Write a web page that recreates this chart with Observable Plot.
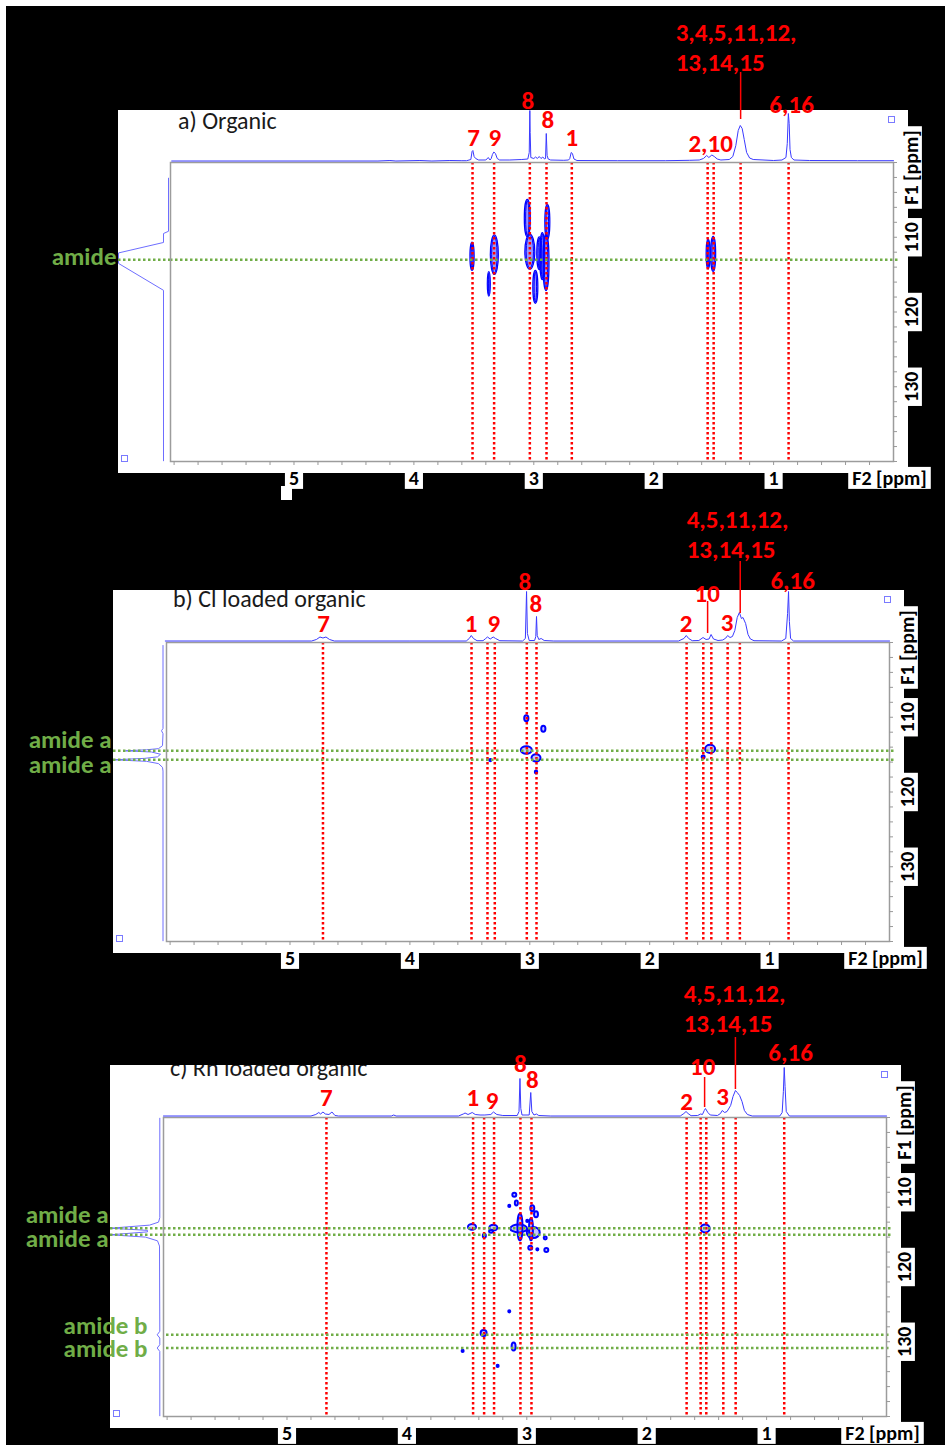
<!DOCTYPE html>
<html><head><meta charset="utf-8">
<script src="https://cdn.jsdelivr.net/npm/d3@7"></script>
<script src="https://cdn.jsdelivr.net/npm/@observablehq/plot@0.6"></script>
<style>
html,body{margin:0;padding:0;background:#fff;}
#page{position:relative;width:945px;height:1445px;overflow:hidden;background:#fff;}
#black{position:absolute;left:6px;top:6px;right:0;bottom:0;background:#000;}
.white{position:absolute;background:#fff;overflow:hidden;}
.title{position:absolute;left:60px;font-family:Carlito,Lato,"Open Sans",sans-serif;font-size:24px;color:#1a1a1a;white-space:nowrap;line-height:24px;}
.marker{position:absolute;width:7px;height:7px;border:1px solid #7a7aff;box-sizing:border-box;background:#fff;}
.deco{position:absolute;background:#fff;}
</style></head>
<body><div id="page"><div id="black"></div></div>
<script>
// ---------- data ----------
const xTickLabels = [5, 4, 3, 2, 1];
const yTickLabels = [110, 120, 130];
const titles = ["a) Organic", "b) Cl loaded organic", "c) Rh loaded organic"];

// 1D F2 traces: [ppm, height above baseline]
const traceA = [[6.02,0.5],[4.30,0.5],[4.20,1],[4.15,0.5],[3.95,1],[3.85,0.5],[3.70,1],[3.60,0.8],
 [3.56,0.8],[3.525,2],[3.515,10],[3.508,11],[3.498,5],[3.485,3],[3.46,1.5],
 [3.40,1.5],[3.38,4],[3.365,1.5],[3.355,3],[3.345,7],[3.333,9.5],[3.32,8],[3.305,3],[3.285,1.5],
 [3.20,1.5],[3.10,2],[3.05,2.5],[3.038,9],[3.033,51],[3.030,29],[3.025,4],
 [3.00,3],[2.985,4.5],[2.97,3],[2.955,5],[2.94,3],[2.925,4.5],[2.91,2.5],
 [2.902,3],[2.896,28],[2.889,6],[2.88,2.5],[2.86,1.5],[2.75,1.2],
 [2.71,1.5],[2.70,3],[2.688,9],[2.678,8],[2.665,2.5],[2.64,1],
 [2.30,0.8],[1.90,0.8],[1.70,1.2],[1.62,1.5],[1.585,3],[1.558,6],[1.54,4],[1.515,6.5],[1.495,5],[1.47,2.5],[1.44,1.5],
 [1.37,2],[1.34,5],[1.315,16],[1.295,31],[1.278,36],[1.262,33],[1.245,22],[1.225,9],[1.20,3.5],[1.17,2],
 [1.00,1],[0.93,1.5],[0.897,4],[0.886,18],[0.877,48],[0.870,38],[0.863,12],[0.852,4],[0.83,1.5],[0.70,1],[0.30,0.8],[0.00,0.8]];
const traceB = [[6.04,0.5],[5.0,0.5],[4.82,0.5],[4.78,2],[4.75,4.5],[4.725,3.5],[4.70,4.5],[4.67,2],[4.63,0.5],
 [4.0,0.5],[3.53,0.5],[3.505,3],[3.488,6],[3.47,3],[3.44,0.8],
 [3.39,0.8],[3.368,3],[3.353,4.5],[3.33,2.5],[3.305,4.5],[3.285,3],[3.25,0.8],
 [3.06,0.5],[3.037,3],[3.027,50],[3.02,8],[3.005,1],
 [2.96,1],[2.95,5],[2.944,25],[2.938,6],[2.925,2],[2.905,3],[2.88,1],[2.80,0.5],
 [1.76,0.5],[1.715,3],[1.695,6],[1.675,3],[1.645,0.8],
 [1.59,1],[1.555,4],[1.53,2],[1.505,2.5],[1.488,7],[1.468,2.5],[1.43,1],
 [1.39,1.5],[1.365,3.5],[1.35,6],[1.33,4],[1.31,5],[1.29,11],[1.27,24],[1.252,29],[1.235,23],[1.222,24],[1.20,18],[1.18,7],[1.16,2.5],[1.13,0.8],
 [0.90,0.5],[0.865,3],[0.850,28],[0.842,50],[0.835,20],[0.825,3],[0.80,0.5],[0.0,0.5]];
const traceC = [[6.03,0.5],[4.80,0.5],[4.76,2],[4.735,4],[4.72,2.5],[4.70,4.5],[4.68,2.5],[4.65,2],[4.625,4.5],[4.60,1],[4.57,0.5],
 [4.13,0.5],[4.11,1.5],[4.09,0.5],
 [3.57,0.5],[3.53,2.5],[3.515,3.5],[3.49,2],[3.455,4],[3.43,2],[3.39,1.5],[3.35,1.5],[3.30,2],[3.278,4.5],[3.25,2],[3.20,1],
 [3.08,1],[3.065,5],[3.057,38],[3.05,8],[3.04,1.5],[2.98,1.5],[2.967,24],[2.958,5],[2.94,1.5],[2.92,2.5],[2.90,1],[2.80,0.5],
 [1.72,0.5],[1.69,3],[1.672,5],[1.655,3],[1.63,0.8],[1.575,1],[1.55,2.5],[1.535,2],[1.52,6],[1.51,8],[1.49,4],[1.47,1.5],
 [1.41,1],[1.385,3],[1.37,6],[1.35,4],[1.33,5],[1.30,11],[1.28,20],[1.26,26],[1.245,24],[1.225,21],[1.205,15],[1.185,6],[1.16,2],[1.12,0.5],
 [0.89,0.5],[0.87,4],[0.86,25],[0.853,49],[0.846,30],[0.836,5],[0.81,0.5],[0.0,0.5]];

// F1 projections: [F1 ppm, height]
const projA = [[102.1,2],[109.2,2],[109.5,7],[110.7,7],[112.1,52],[113.5,52],[117.1,7],[139.9,7]];
const projB = [[100.4,3.5],[111.5,3.5],[111.8,5],[112.2,3.5],[113.8,4],[114.2,8],[114.35,20],[114.49,41],[114.65,15],[114.95,6],
 [115.3,9],[115.5,22],[115.69,52],[115.9,20],[116.2,8],[116.7,4],[117.2,3.5],[139.9,3.5]];
const projC = [[100.1,3.7],[113.4,3.7],[114.0,5],[114.4,14],[114.81,53],[115.1,16],[115.3,16],[115.69,53],[116.0,18],[116.5,6],[117.2,4],
 [128.6,3.7],[129.07,6.3],[129.5,3.7],[130.4,3.7],[130.84,6.3],[131.3,3.7],[139.9,3.7]];

// assignment lines (F2 ppm)
const assignA = [3.511,3.331,3.033,2.894,2.683,1.55,1.5,1.275,0.875];
const assignB = [4.725,3.486,3.353,3.292,3.025,2.944,1.692,1.553,1.486,1.35,1.248,0.842];
const assignC = [4.671,3.448,3.356,3.273,3.053,2.961,1.667,1.55,1.503,1.361,1.258,0.853];

// amide lines (F1 ppm) and their labels [text, F1]
const amideA = [113.0];
const amideLabelsA = [["amide",112.7]];
const amideB = [114.49,115.69];
const amideLabelsB = [["amide a",113.1],["amide a",116.45]];
const amideC = [114.81,115.69];
const amideLabelsC = [["amide a",113.1],["amide a",116.2]];
const amideBLinesC = [129.07,130.84];
const amideBLabelsC = [["amide b",127.9],["amide b",131.0]];

// peak labels [text, ppm, height]
const peakLabelsA = [["7",3.503,23.5],["9",3.325,23.5],["8",3.05,61],["8",2.883,42],["1",2.683,23.5],["2,10",1.525,17.5],["6,16",0.85,57]];
const groupLabelsA = [["3,4,5,11,12,",1.817,128.5],["13,14,15",1.817,98.5]];
const leadersA = [[1.275,89,42]];
const peakLabelsB = [["7",4.72,18],["1",3.49,18],["9",3.30,18],["8",3.042,60],["8",2.95,38],["2",1.697,18],["10",1.521,48],["3",1.355,18.3],["6,16",0.808,61]];
const groupLabelsB = [["4,5,11,12,",1.692,122],["13,14,15",1.692,92]];
const leadersB = [[1.245,80,28],[1.517,40,8]];
const peakLabelsC = [["7",4.671,18.5],["1",3.45,19],["9",3.29,16],["8",3.053,53],["8",2.953,37],["2",1.667,15],["10",1.533,50],["3",1.367,20],["6,16",0.8,64]];
const groupLabelsC = [["4,5,11,12,",1.692,123],["13,14,15",1.692,93]];
const leadersC = [[1.26,79,27],[1.517,39,9]];

// cross peaks [F2 centre, F1 centre, F2 extent, F1 extent]
const crossA = [[3.511,112.6,0.035,3.8],[3.325,112.4,0.067,5.3],[3.371,116.3,0.025,3.3],[3.050,107.5,0.05,5.0],
 [3.029,112.0,0.083,4.7],[2.983,116.7,0.042,4.4],[2.950,112.2,0.042,4.4],[2.925,112.6,0.042,6.3],
 [2.883,108.0,0.042,4.7],[2.894,113.4,0.05,7.6],[1.542,112.3,0.033,4.0],[1.500,112.3,0.042,4.7]];
const crossB = [[3.025,110.2,0.035,0.8],[2.883,111.6,0.035,0.8],[3.025,114.45,0.092,1.0],[2.944,115.5,0.075,1.0],
 [2.944,117.4,0.02,0.4],[3.325,115.8,0.02,0.3],[1.492,114.3,0.083,1.1],[1.550,115.4,0.025,0.4]];
const crossC = [[3.100,110.4,0.033,0.55],[3.142,111.9,0.017,0.3],[3.083,111.5,0.025,0.65],[2.950,112.2,0.033,0.8],
 [2.919,113.0,0.033,0.8],[2.992,113.9,0.017,0.3],[3.453,114.7,0.067,0.8],[3.350,115.9,0.025,0.55],
 [3.275,114.8,0.067,0.8],[3.294,115.3,0.033,0.4],[3.063,114.9,0.14,1.07],[3.053,114.7,0.042,3.6],
 [2.942,115.45,0.108,1.47],[2.961,115.0,0.033,3.0],[2.967,117.5,0.033,0.55],[2.908,117.7,0.017,0.3],
 [2.833,117.8,0.033,0.55],[2.842,116.2,0.025,0.4],[3.142,126.0,0.017,0.3],[3.356,128.9,0.05,0.8],
 [3.106,130.7,0.033,1.07],[3.531,131.3,0.017,0.3],[3.239,133.3,0.017,0.3],[1.508,114.9,0.075,1.07]];

// ---------- layout ----------
const F = "Carlito, Lato, 'Open Sans', sans-serif";
const RED = "#ff0000", GREEN = "#70ad47";
const NS = "http://www.w3.org/2000/svg";
const F2DOMAIN = [6.03, 0];
const page = document.getElementById("page");

const panels = [
  {title: titles[0], titleTop: -1, white: [118,110,908,473], frame: [170,162,893,461], trace: traceA, proj: projA,
   assign: assignA, amide: amideA, amideLabels: amideLabelsA, amideB: [], amideBLabels: [], cross: crossA,
   peakLabels: peakLabelsA, groupLabels: groupLabelsA, leaders: leadersA, thin: true},
  {title: titles[1], titleTop: -3, white: [113,590,904,953], frame: [166,642,889,941], trace: traceB, proj: projB,
   assign: assignB, amide: amideB, amideLabels: amideLabelsB, amideB: [], amideBLabels: [], cross: crossB,
   peakLabels: peakLabelsB, groupLabels: groupLabelsB, leaders: leadersB, thin: false},
  {title: titles[2], titleTop: -9, white: [110,1065,901,1428], frame: [163,1117,886,1416], trace: traceC, proj: projC,
   assign: assignC, amide: amideC, amideLabels: amideLabelsC, amideB: amideBLinesC, amideBLabels: amideBLabelsC, cross: crossC,
   peakLabels: peakLabelsC, groupLabels: groupLabelsC, leaders: leadersC, thin: false}
];

function place(svg, left, top) {
  svg.style.position = "absolute";
  svg.style.left = left + "px";
  svg.style.top = top + "px";
  svg.style.background = "transparent";
  svg.style.overflow = "visible";
  svg.style.maxWidth = "none";
  page.appendChild(svg);
  return svg;
}
function boxify(svg) {
  svg.querySelectorAll('g[aria-description="boxed"] text').forEach(t => {
    const b = t.getBBox();
    const r = document.createElementNS(NS, "rect");
    r.setAttribute("x", b.x - 4);
    r.setAttribute("y", b.y + 1);
    r.setAttribute("width", b.width + 8);
    r.setAttribute("height", b.height - 2);
    const tr = t.getAttribute("transform");
    if (tr) r.setAttribute("transform", tr);
    r.setAttribute("fill", "#fff");
    r.setAttribute("stroke", "none");
    t.parentNode.insertBefore(r, t);
  });
}
const ell = (data, opts) => Plot.rect(data, {
  x1: d => d[0] + d[2] / 2, x2: d => d[0] - d[2] / 2,
  y1: d => d[1] - d[3] / 2, y2: d => d[1] + d[3] / 2,
  rx: 80, ry: 80, ...opts
});
const minorX = d3.ticks(0.2, 6, 30);
const minorY = d3.ticks(100, 140, 20);
const dotted = {strokeWidth: 2.5, strokeDasharray: "2.5,2.5"};
const axisText = {fontFamily: F, fontSize: 20, fontWeight: "bold", fill: "#000", textAnchor: "middle", lineAnchor: "middle", ariaDescription: "boxed"};

panels.forEach((p, i) => {
  const [wl, wt, wr, wb] = p.white;
  const [fl, ft, fr, fb] = p.frame;
  // white plotting area
  const w = document.createElement("div");
  w.className = "white";
  Object.assign(w.style, {left: wl + "px", top: wt + "px", width: (wr - wl) + "px", height: (wb - wt) + "px"});
  const t = document.createElement("div");
  t.className = "title"; t.textContent = p.title; t.style.top = p.titleTop + "px";
  w.appendChild(t);
  const m1 = document.createElement("div"); m1.className = "marker";
  Object.assign(m1.style, {left: (wr - wl - 20) + "px", top: "6px"});
  const m2 = document.createElement("div"); m2.className = "marker";
  Object.assign(m2.style, {left: "3px", top: (fb - wt - 6) + "px"});
  w.appendChild(m1); w.appendChild(m2);
  page.appendChild(w);
  if (i === 0) {
    const d = document.createElement("div"); d.className = "deco";
    Object.assign(d.style, {left: "281px", top: "486px", width: "11px", height: "14px"});
    page.appendChild(d);
  }

  const frameW = fr - fl, frameH = fb - ft;

  // F1 projection (left)
  const projSvg = Plot.plot({
    width: fl, height: frameH,
    marginLeft: wl, marginRight: 0, marginTop: 0, marginBottom: 0,
    x: {domain: [0, fl - wl], reverse: true, axis: null},
    y: {domain: [100, 140], reverse: true, axis: null},
    marks: [
      Plot.line(p.proj, {x: d => d[1], y: d => d[0], stroke: "#6e6eff", strokeWidth: 1}),
      Plot.ruleY(p.amide, {y: d => d, stroke: GREEN, ...dotted}),
      Plot.text(p.amideLabels, {y: d => d[1], text: d => d[0], frameAnchor: "left", textAnchor: "end", lineAnchor: "middle", dx: -2,
        fill: GREEN, fontFamily: F, fontSize: 25, fontWeight: "bold"}),
      Plot.text(p.amideBLabels, {y: d => d[1], text: d => d[0], frameAnchor: "right", textAnchor: "end", lineAnchor: "middle", dx: -16,
        fill: GREEN, fontFamily: F, fontSize: 25, fontWeight: "bold"})
    ]
  });
  place(projSvg, 0, ft);

  // 2D map
  const H = wb - wt + 34;
  const mainSvg = Plot.plot({
    width: 945, height: H,
    marginLeft: fl, marginRight: 945 - fr, marginTop: ft - wt, marginBottom: H - (fb - wt),
    x: {domain: F2DOMAIN, axis: null},
    y: {domain: [100, 140], reverse: true, axis: null},
    marks: [
      p.thin
        ? ell(p.cross, {fill: "#4040ff", fillOpacity: 0.55, stroke: "#0000ff", strokeWidth: 1.2})
        : ell(p.cross, {fill: "#5a5aff", fillOpacity: 0.35, stroke: "#0000ff", strokeWidth: 2}),
      p.thin ? ell(p.cross, {fill: "none", stroke: "#0000ff", strokeWidth: 1, inset: 1.3}) : null,
      Plot.ruleX(p.assign, {x: d => d, stroke: RED, ...dotted}),
      Plot.ruleY(p.amide, {y: d => d, stroke: GREEN, ...dotted, insetRight: -5}),
      Plot.ruleY(p.amideB, {y: d => d, stroke: GREEN, ...dotted, insetLeft: 3, insetRight: -5}),
      Plot.frame({stroke: "#9c9c9c", strokeWidth: 1.5}),
      Plot.tickX(minorX, {x: d => d, stroke: "#999", insetTop: frameH, insetBottom: -4}),
      Plot.tickY(minorY, {y: d => d, stroke: "#999", insetLeft: frameW, insetRight: -4}),
      Plot.text(xTickLabels, {x: d => d, text: d => String(d), frameAnchor: "bottom", dy: 17, ...axisText}),
      Plot.text(["F2 [ppm]"], {text: d => d, frameAnchor: "bottom-right", dx: -4, dy: 17, ...axisText}),
      Plot.text(yTickLabels, {y: d => d, text: d => String(d), frameAnchor: "right", dx: 18, rotate: -90, ...axisText}),
      Plot.text(["F1 [ppm]"], {text: d => d, frameAnchor: "top-right", dx: 18, dy: 5, rotate: -90, ...axisText})
    ].filter(Boolean)
  });
  place(mainSvg, 0, wt);
  boxify(mainSvg);

  // 1D F2 trace and assignments (top)
  const TH = 152;
  const topSvg = Plot.plot({
    width: 945, height: TH,
    marginLeft: fl, marginRight: 945 - fr, marginTop: 0, marginBottom: 1,
    x: {domain: F2DOMAIN, axis: null},
    y: {domain: [0, TH - 1], axis: null},
    marks: [
      Plot.line(p.trace, {x: d => d[0], y: d => d[1], stroke: "#3a3aff", strokeWidth: 1}),
      Plot.ruleX(p.leaders, {x: d => d[0], y1: d => d[1], y2: d => d[2], stroke: RED, strokeWidth: 1.5}),
      Plot.text(p.peakLabels, {x: d => d[1], y: d => d[2], text: d => d[0], fill: RED, fontFamily: F, fontSize: 25, fontWeight: "bold"}),
      Plot.text(p.groupLabels, {x: d => d[1], y: d => d[2], text: d => d[0], textAnchor: "start", fill: RED, fontFamily: F, fontSize: 25, fontWeight: "bold"})
    ]
  });
  place(topSvg, 0, ft - TH);
});
</script></body></html>
